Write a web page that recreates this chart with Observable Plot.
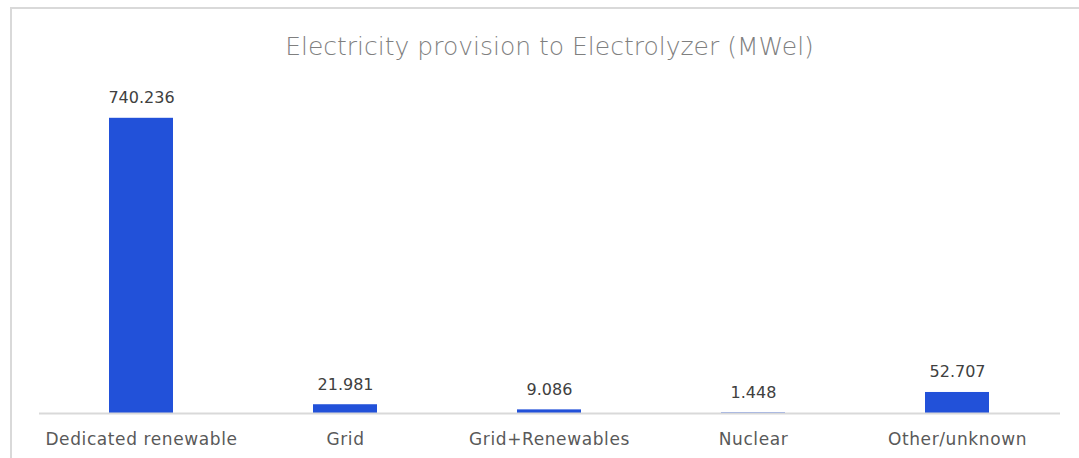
<!DOCTYPE html>
<html>
<head>
<meta charset="utf-8">
<script src="https://cdn.jsdelivr.net/npm/d3@7"></script>
<script src="https://cdn.jsdelivr.net/npm/@observablehq/plot@0.6"></script>
<style>
  html, body { margin: 0; padding: 0; background: #fff; }
  body { width: 1079px; height: 458px; overflow: hidden; position: relative; font-family: "DejaVu Sans", sans-serif; }
  #frame { position: absolute; left: 10px; top: 7px; width: 1100px; height: 500px; border-top: 2px solid #d9d9d9; border-left: 2px solid #d9d9d9; box-sizing: border-box; }
  #title { position: absolute; left: 0; width: 1099px; top: 34px; text-align: center; font-size: 25px; color: #7f7f7f; font-weight: 300; line-height: 1; letter-spacing: 0px; }
  #chart { position: absolute; left: 0; top: 0; }
  g[aria-label="x-axis tick label"] text { letter-spacing: 0.6px; }
</style>
</head>
<body>
<div id="frame"></div>
<div id="chart"></div>
<div id="title">Electricity provision to Electrolyzer (MWel)</div>
<script>
const categories = ["Dedicated renewable", "Grid", "Grid+Renewables", "Nuclear", "Other/unknown"];
const values = [740.236, 21.981, 9.086, 1.448, 52.707];
const valueLabels = ["740.236", "21.981", "9.086", "1.448", "52.707"];

const data = categories.map((c, i) => ({category: c, value: values[i], label: valueLabels[i]}));

const chart = Plot.plot({
  width: 1079,
  height: 458,
  marginLeft: 39,
  marginRight: 19,
  marginTop: 80,
  marginBottom: 45,
  style: {background: "transparent", fontFamily: "DejaVu Sans, sans-serif"},
  x: {domain: categories, paddingInner: 0.686, paddingOuter: 0.343, label: null},
  y: {domain: [0, 835], axis: null},
  marks: [
    Plot.barY(data, {x: "category", y: "value", fill: "#2251D9"}),
    Plot.ruleY([0], {stroke: "#d9d9d9", strokeWidth: 2}),
    Plot.text(data, {x: "category", y: "value", text: "label", dy: -15, lineAnchor: "bottom", fontSize: 16, fill: "#404040"}),
    Plot.axisX({tickSize: 0, tickPadding: 19, fontSize: 17, color: "#595959", label: null})
  ]
});
document.getElementById("chart").appendChild(chart);
</script>
</body>
</html>
